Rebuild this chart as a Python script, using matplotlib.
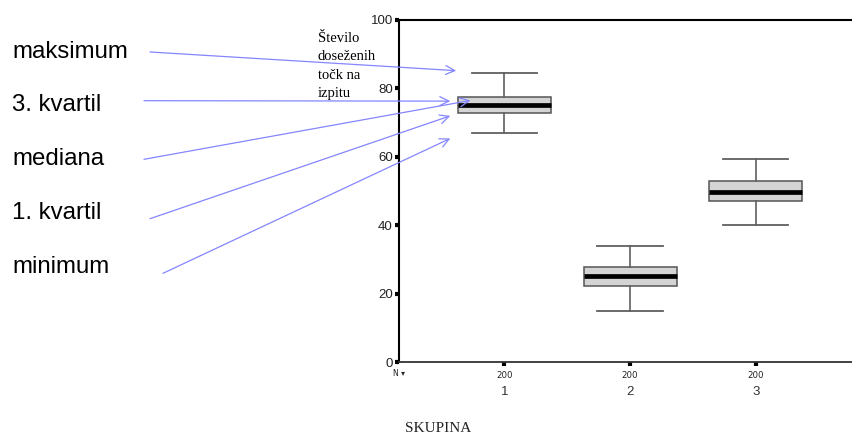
import matplotlib
matplotlib.use("Agg")
import matplotlib.pyplot as plt
import matplotlib.transforms as mtransforms

# ---- data ----
groups = ["1", "2", "3"]
n_counts = [200, 200, 200]
whisker_low = [67.1, 15.1, 40.2]
q1 = [72.7, 22.3, 47.0]
median = [75.3, 25.2, 49.7]
q3 = [77.6, 27.8, 53.0]
whisker_high = [84.4, 34.0, 59.5]
yticks = [0, 20, 40, 60, 80, 100]

labels_left = ["maksimum", "3. kvartil", "mediana", "1. kvartil", "minimum"]
# arrow targets (data coords, relative to group 1)
arrow_target_x = [0.617, 0.57, 0.73, 0.57, 0.57]
arrow_target_y = [85.2, 76.3, 76.5, 72.0, 65.4]

W, H = 852, 438
fig = plt.figure(figsize=(W / 100, H / 100), dpi=100)
ax = fig.add_axes([399 / W, (H - 362.3) / H, (W - 399) / W, (362.3 - 20) / H])

stats = []
for i in range(len(groups)):
    stats.append(dict(med=median[i], q1=q1[i], q3=q3[i],
                      whislo=whisker_low[i], whishi=whisker_high[i],
                      fliers=[], label=groups[i]))

positions = [i + 1 for i in range(len(groups))]
ax.bxp(stats, positions=positions, widths=0.74, capwidths=0.52,
       showfliers=False, patch_artist=True,
       boxprops=dict(facecolor="#d4d4d4", edgecolor="#555555", linewidth=1.1),
       medianprops=dict(color="black", linewidth=3.4, solid_capstyle="butt"),
       whiskerprops=dict(color="#606060", linewidth=1.2),
       capprops=dict(color="#606060", linewidth=1.3))

ax.set_xlim(0.162, 3.766)
ax.set_ylim(0, 100)

ax.spines["right"].set_visible(False)
ax.spines["left"].set_linewidth(1.5)
ax.spines["left"].set_color("black")
ax.spines["top"].set_linewidth(1.5)
ax.spines["top"].set_color("black")
ax.spines["bottom"].set_linewidth(1.3)
ax.spines["bottom"].set_color("#333333")

ax.set_yticks(yticks)
ax.set_yticklabels([str(v) for v in yticks], fontsize=9.5, family="Liberation Sans", color="#222222")
ax.tick_params(axis="y", direction="out", length=3, width=3, color="black", pad=1.5)

ax.set_xticks(positions)
ax.set_xticklabels([str(n) for n in n_counts], fontsize=6.2, family="Liberation Sans Narrow",
                   color="#222222")
ax.tick_params(axis="x", direction="out", length=3, width=3, color="black", pad=3)

trans = mtransforms.blended_transform_factory(ax.transData, ax.transAxes)
for p, g in zip(positions, groups):
    ax.text(p, -0.088, g, transform=trans, ha="center", va="center",
            fontsize=9.5, family="Liberation Sans", color="#333333")

# "N" marker at origin
fig.text(393 / W, (H - 373) / H, "N \u25be", fontsize=5.5, family="DejaVu Sans",
         va="center", ha="left", color="#222222")

fig.text(405 / W, (H - 429) / H, "SKUPINA", fontsize=11, family="Liberation Serif",
         va="center", ha="left", color="#222222")

fig.text(318 / W, (H - 32) / H, "Število\ndoseženih\ntočk na\nizpitu", fontsize=10.5,
         family="Liberation Serif", va="top", ha="left", linespacing=1.55, color="black")

# left annotations
text_y = [52, 105, 159, 213, 267]
arrow_start = [(150, 52), (144, 100.7), (144, 159.3), (150, 218.7), (163, 273.3)]
for lab, ty, (sx, sy), tx_, ty_ in zip(labels_left, text_y, arrow_start,
                                       arrow_target_x, arrow_target_y):
    fig.text(12 / W, (H - ty) / H, lab, fontsize=17.3, family="Liberation Sans",
             va="center", ha="left", color="black")
    ax.annotate("", xy=(tx_, ty_), xycoords="data",
                xytext=(sx, H - sy), textcoords="figure pixels",
                arrowprops=dict(arrowstyle="->,head_length=0.65,head_width=0.32",
                                color="#8585ff", lw=0.9, shrinkA=0, shrinkB=0),
                annotation_clip=False)

fig.savefig("out.png", dpi=100)
